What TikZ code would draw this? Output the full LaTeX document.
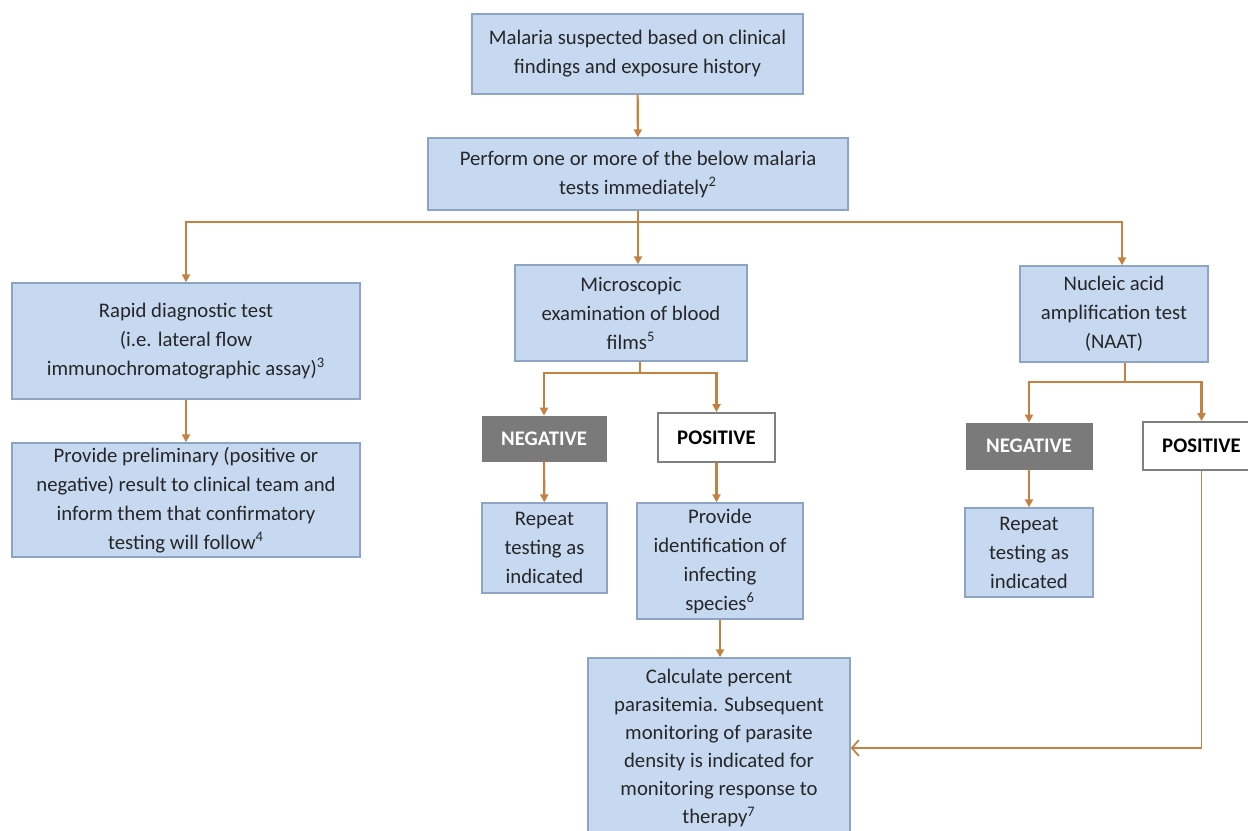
\documentclass[tikz,border=0pt]{standalone}
\usepackage{fontspec}
\setmainfont{Carlito}
\usetikzlibrary{arrows.meta}
\definecolor{boxfill}{RGB}{198,217,241}
\definecolor{boxline}{RGB}{141,164,196}
\definecolor{linkc}{RGB}{196,130,66}
\definecolor{neggray}{RGB}{122,122,122}
\definecolor{posline}{RGB}{128,128,128}
\definecolor{textgray}{RGB}{38,38,38}

\begin{document}
\begin{tikzpicture}[x=0.02cm, y=-0.02cm,
  box/.style={draw=boxline, fill=boxfill, line width=0.8pt, align=center,
    text=textgray, inner sep=0pt, font=\fontsize{11.8}{16.5}\selectfont},
  negbox/.style={draw=neggray, fill=neggray, text=white, inner sep=0pt,
    font=\fontsize{11.8}{14}\selectfont\bfseries},
  posbox/.style={draw=posline, fill=white, line width=1pt, text=black,
    inner sep=0pt, font=\fontsize{11.8}{14}\selectfont\bfseries},
  link/.style={draw=linkc, line width=1.2pt},
  arr/.style={link, -{Triangle[length=4.5pt,width=4.5pt]}}]
  \useasboundingbox (0,0) rectangle (1248,831);
  % 上部
  \node[box, minimum width=6.62cm, minimum height=1.6cm] (suspect) at (637.5,54)
    {Malaria suspected based on clinical\\findings and exposure history};
  \node[box, minimum width=8.4cm, minimum height=1.44cm] (perform) at (638,174)
    {Perform one or more of the below malaria\\tests immediately\textsuperscript{2}};
  \coordinate (split1) at (638,222);
  % 左列
  \node[box, minimum width=6.96cm, minimum height=2.32cm] (rdt) at (186,341)
    {Rapid diagnostic test\\(i.e. lateral flow\\immunochromatographic assay)\textsuperscript{3}};
  \node[box, minimum width=6.96cm, minimum height=2.28cm] (prelim) at (186,500)
    {Provide preliminary (positive or\\negative) result to clinical team and\\inform them that confirmatory\\testing will follow\textsuperscript{4}};
  % 中列
  \node[box, minimum width=4.64cm, minimum height=1.92cm] (micro) at (631,313)
    {Microscopic\\examination of blood\\films\textsuperscript{5}};
  \coordinate (split2) at (640,373);
  \node[negbox, minimum width=2.48cm, minimum height=0.9cm] (neg1) at (544,438.5) {NEGATIVE};
  \node[posbox, minimum width=2.34cm, minimum height=0.98cm] (pos1) at (716.5,437.5) {POSITIVE};
  \node[box, minimum width=2.5cm, minimum height=1.8cm] (rep1) at (544.5,548)
    {Repeat\\testing as\\indicated};
  \node[box, minimum width=3.32cm, minimum height=2.32cm] (ident) at (720,561)
    {Provide\\identification of\\infecting\\species\textsuperscript{6}};
  \node[box, minimum width=5.24cm, minimum height=3.6cm,
    font=\fontsize{11.8}{16}\selectfont] (calc) at (719,748)
    {Calculate percent\\parasitemia. Subsequent\\monitoring of parasite\\density is indicated for\\monitoring response to\\therapy\textsuperscript{7}};
  % 右列
  \node[box, minimum width=3.76cm, minimum height=1.92cm] (naat) at (1114,314)
    {Nucleic acid\\amplification test\\(NAAT)};
  \coordinate (split3) at (1125,382);
  \node[negbox, minimum width=2.52cm, minimum height=0.92cm] (neg2) at (1029,446) {NEGATIVE};
  \node[posbox, minimum width=2.34cm, minimum height=0.96cm] (pos2) at (1201.5,446) {POSITIVE};
  \node[box, minimum width=2.56cm, minimum height=1.78cm] (rep2) at (1029,552.5)
    {Repeat\\testing as\\indicated};
  % 连线
  \draw[arr] (suspect) -- (perform);
  \draw[arr] (perform.south) -- (perform.south |- micro.north);
  \draw[arr] (split1) -| (rdt.north);
  \draw[arr] (split1) -| ([xshift=0.16cm]naat.north);
  \draw[arr] (rdt) -- (prelim);
  \draw[link] (micro.south -| split2) -- (split2);
  \draw[arr] (split2) -| (neg1.north);
  \draw[arr] (split2) -| (pos1.north);
  \draw[arr] (neg1) -- (rep1);
  \draw[arr] (pos1.south) -- (pos1.south |- ident.north);
  \draw[arr] (ident.south) -- (ident.south |- calc.north);
  \draw[link] (naat.south -| split3) -- (split3);
  \draw[arr] (split3) -| (neg2.north);
  \draw[arr] (split3) -| (pos2.north);
  \draw[arr] (neg2) -- (rep2);
  \draw[link, line width=1pt, -{Straight Barb[length=4pt,width=9pt]}]
    (pos2.south) |- (calc.east);
\end{tikzpicture}
\end{document}
